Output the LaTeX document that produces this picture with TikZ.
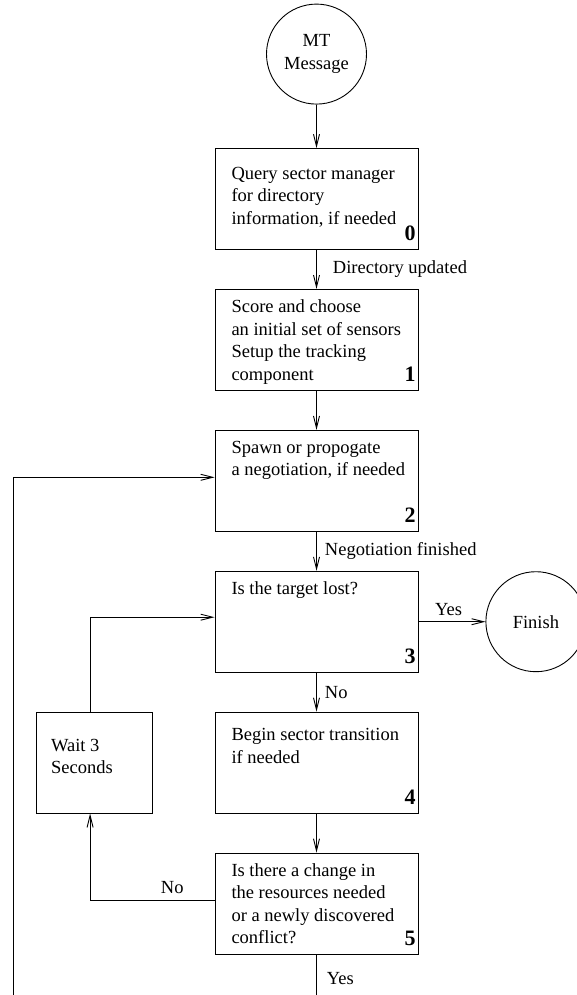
\documentclass[tikz,border=0pt]{standalone}
\usepackage{fontspec}
\setmainfont{Liberation Serif}
\usetikzlibrary{positioning,arrows.meta}

\begin{document}
\begin{tikzpicture}[font=\fontsize{18.5pt}{22.5pt}\selectfont, line width=0.9pt]
      \tikzstyle{term}=[circle, draw, minimum size=100pt, inner sep=0pt, align=center]
      \tikzstyle{stage}=[rectangle, draw, minimum width=203pt, minimum height=101pt, inner sep=0pt]
      \tikzstyle{waitbox}=[rectangle, draw, minimum width=116pt, minimum height=101pt, inner sep=0pt]
      \tikzstyle{txt}=[align=left, inner sep=0pt]
      \tikzstyle{lbl}=[inner sep=0pt, font=\fontsize{22pt}{22pt}\selectfont\bfseries]
      \tikzstyle{elab}=[inner sep=0pt]
      \tikzstyle{connect}=[-{Straight Barb[length=12pt, width=6pt]}]

      \useasboundingbox (0,0) rectangle (576pt,-995pt);

      % main column
      \node[stage] (query) at (316.5pt,-199pt) {};
      \node[term] (mt) [above=43.5pt of query] {MT\\Message};
      \node[stage] (score) [below=39pt of query] {};
      \node[stage] (spawn) [below=39pt of score] {};
      \node[stage] (lost) [below=39pt of spawn] {};
      \node[stage] (sector) [below=39pt of lost] {};
      \node[stage] (change) [below=39pt of sector] {};
      \node[term] (finish) [right=67pt of lost] {Finish};
      \node[waitbox] (wait) [left=62pt of sector] {};

      % box texts
      \node[txt, below right=18.7pt and 16.5pt of query.north west] (querytxt) {Query sector manager\\for directory\\information, if needed};
      \node[txt, below right=10.5pt and 16.5pt of score.north west] (scoretxt) {Score and choose\\an initial set of sensors\\Setup the tracking\\component};
      \node[txt, below right=10.5pt and 16.5pt of spawn.north west] (spawntxt) {Spawn or propogate\\a negotiation, if needed};
      \node[txt, below right=10.5pt and 16.5pt of lost.north west] (losttxt) {Is the target lost?};
      \node[txt, below right=16.5pt and 16.5pt of sector.north west] (sectortxt) {Begin sector transition\\if needed};
      \node[txt, below right=10.5pt and 16.5pt of change.north west] (changetxt) {Is there a change in\\the resources needed\\or a newly discovered\\conflict?};
      \node[txt, below right=26.7pt and 15pt of wait.north west] (waittxt) {Wait 3\\Seconds};

      % step numbers
      \node[lbl, above left=8.5pt and 2.5pt of query.south east] (querynum) {0};
      \node[lbl, above left=8.5pt and 2.5pt of score.south east] (scorenum) {1};
      \node[lbl, above left=8.5pt and 2.5pt of spawn.south east] (spawnnum) {2};
      \node[lbl, above left=8.5pt and 2.5pt of lost.south east] (lostnum) {3};
      \node[lbl, above left=8.5pt and 2.5pt of sector.south east] (sectornum) {4};
      \node[lbl, above left=8.5pt and 2.5pt of change.south east] (changenum) {5};

      \coordinate (foot) at (13pt,-995pt);
      \coordinate (exit) at (change.south |- foot);

      \draw[connect] (mt) -- (query);
      \draw[connect] (query) -- node[elab, right=16pt] {Directory updated} (score);
      \draw[connect] (score) -- (spawn);
      \draw[connect] (spawn) -- node[elab, right=8pt] {Negotiation finished} (lost);
      \draw[connect] (lost) -- node[elab, right=8pt] {No} (sector);
      \draw[connect] (sector) -- (change);
      \draw[connect] (lost) -- node[elab, above=6pt, pos=.45] {Yes} (finish);
      \draw (change) -- node[elab, right=10pt, pos=.6] {Yes} (exit);

      % loops
      \draw[connect] ([yshift=3.5pt]change.west) -| node[elab, above=6pt, pos=.17] {No} ([xshift=-4pt]wait.south);
      \draw[connect] ([xshift=-4pt]wait.north) |- ([yshift=4.5pt]lost.west);
      \draw[connect] (foot) |- ([yshift=3.5pt]spawn.west);
    \end{tikzpicture}
\end{document}
